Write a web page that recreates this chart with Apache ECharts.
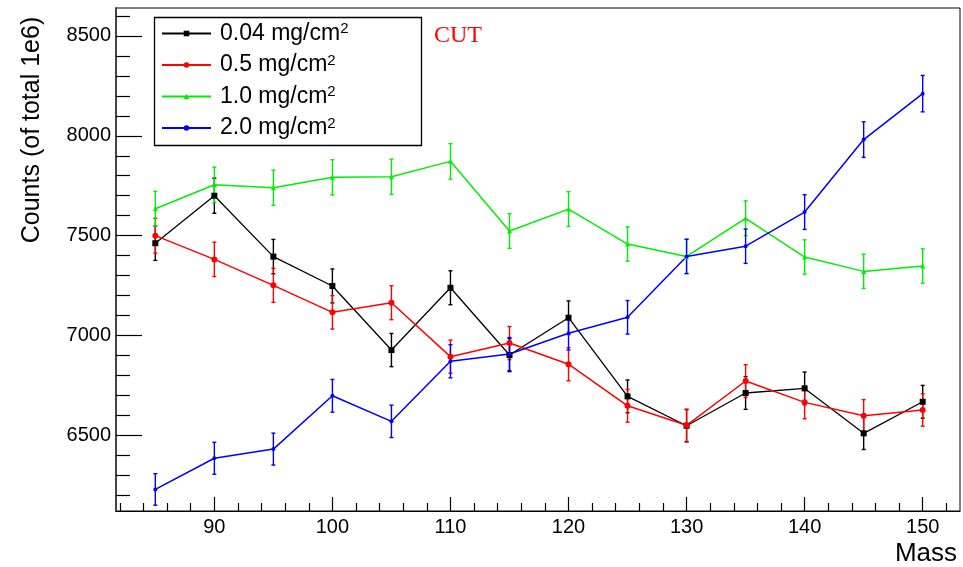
<!DOCTYPE html>
<html>
<head>
<meta charset="utf-8">
<script src="https://cdn.jsdelivr.net/npm/echarts@6/dist/echarts.min.js"></script>
<style>html,body{margin:0;padding:0;background:#fff;}#c{width:963px;height:567px;}</style>
</head>
<body>
<div id="c"></div>
<script>
// ---- data ----
const masses = [85, 90, 95, 100, 105, 110, 115, 120, 125, 130, 135, 140, 145, 150];
const seriesNames = ['0.04 mg/cm²', '0.5 mg/cm²', '1.0 mg/cm²', '2.0 mg/cm²'];
const counts004 = [7462, 7700, 7395, 7248, 6927, 7239, 6902, 7089, 6695, 6548, 6712, 6735, 6510, 6668];
const errors004 = [86, 88, 86, 85, 83, 85, 83, 84, 82, 81, 82, 82, 81, 82];
const counts05  = [7500, 7381, 7251, 7116, 7164, 6894, 6962, 6856, 6648, 6550, 6772, 6665, 6598, 6627];
const errors05  = [87, 86, 85, 84, 85, 83, 83, 83, 82, 81, 82, 82, 81, 81];
const counts10  = [7635, 7755, 7740, 7792, 7795, 7872, 7523, 7633, 7458, 7396, 7587, 7393, 7321, 7348];
const errors10  = [87, 88, 88, 88, 88, 89, 87, 87, 86, 86, 87, 86, 86, 86];
const counts20  = [6229, 6385, 6431, 6698, 6570, 6871, 6907, 7011, 7091, 7396, 7447, 7618, 7981, 8211];
const errors20  = [79, 80, 80, 82, 81, 83, 83, 84, 84, 86, 86, 87, 89, 91];
const xMajorTicks = [90, 100, 110, 120, 130, 140, 150];
const xMinorTicks = [82, 84, 86, 88, 92, 94, 96, 98, 102, 104, 106, 108, 112, 114, 116, 118, 122, 124, 126, 128, 132, 134, 136, 138, 142, 144, 146, 148, 152];
const yMajorTicks = [6500, 7000, 7500, 8000, 8500];
const yMinorTicks = [6200, 6300, 6400, 6600, 6700, 6800, 6900, 7100, 7200, 7300, 7400, 7600, 7700, 7800, 7900, 8100, 8200, 8300, 8400, 8600];

// ---- styling ----
const colors = ['#000000', '#ff0000', '#00ee00', '#0000ff'];
const symbols = ['rect', 'circle', 'triangle', 'circle'];
const symbolSizes = [6, 6, 5, 4];
const allCounts = [counts004, counts05, counts10, counts20];
const allErrors = [errors004, errors05, errors10, errors20];
const FONT = "'Liberation Sans', Arial, sans-serif";
const X_MIN = 81.67, X_MAX = 153.16, Y_MIN = 6121, Y_MAX = 8640;

const series = [];
allCounts.forEach((vals, i) => {
  const color = colors[i];
  series.push({
    name: 'err' + i,
    type: 'custom',
    xAxisIndex: 0, yAxisIndex: 0,
    data: masses.map((m, k) => [m, vals[k], allErrors[i][k]]),
    silent: true,
    renderItem: function (params, api) {
      const x = api.value(0), y = api.value(1), e = api.value(2);
      const top = api.coord([x, y + e]);
      const bot = api.coord([x, y - e]);
      const st = { stroke: color, lineWidth: 1.4 };
      return {
        type: 'group',
        children: [
          { type: 'line', shape: { x1: top[0], y1: top[1], x2: bot[0], y2: bot[1] }, style: st },
          { type: 'line', shape: { x1: top[0] - 2, y1: top[1], x2: top[0] + 2, y2: top[1] }, style: st },
          { type: 'line', shape: { x1: bot[0] - 2, y1: bot[1], x2: bot[0] + 2, y2: bot[1] }, style: st }
        ]
      };
    }
  });
  series.push({
    name: seriesNames[i],
    type: 'line',
    xAxisIndex: 0, yAxisIndex: 0,
    data: masses.map((m, k) => [m, vals[k]]),
    symbol: symbols[i],
    symbolSize: symbolSizes[i],
    showAllSymbol: true,
    lineStyle: { color: color, width: i === 0 ? 1.3 : 1.5 },
    itemStyle: { color: color },
    emphasis: { disabled: true },
    animation: false
  });
});

const chart = echarts.init(document.getElementById('c'), null, { renderer: 'canvas' });
const gridBox = { left: 116, top: 8, right: 3, bottom: 56 };
chart.setOption({
  animation: false,
  backgroundColor: '#ffffff',
  grid: [
    Object.assign({ show: true, borderColor: '#000', borderWidth: 1, containLabel: false }, gridBox),
    Object.assign({ show: false, containLabel: false }, gridBox)
  ],
  xAxis: [
    {
      type: 'value', gridIndex: 0, min: X_MIN, max: X_MAX,
      splitLine: { show: false },
      axisLine: { show: true, lineStyle: { color: '#000', width: 1.2 } },
      axisTick: { show: true, inside: true, length: 14, customValues: xMajorTicks, lineStyle: { color: '#000', width: 1.2 } },
      axisLabel: { show: true, customValues: xMajorTicks, fontSize: 20, fontFamily: FONT, color: '#000', margin: 6,
        formatter: function (v) { return String(v); } }
    },
    {
      type: 'value', gridIndex: 1, min: X_MIN, max: X_MAX,
      splitLine: { show: false },
      axisLine: { show: false },
      axisTick: { show: true, inside: true, length: 8, customValues: xMinorTicks, lineStyle: { color: '#000', width: 1.2 } },
      axisLabel: { show: false }
    }
  ],
  yAxis: [
    {
      type: 'value', gridIndex: 0, min: Y_MIN, max: Y_MAX,
      splitLine: { show: false },
      axisLine: { show: true, lineStyle: { color: '#444', width: 2 } },
      axisTick: { show: true, inside: true, length: 26, customValues: yMajorTicks, lineStyle: { color: '#000', width: 1.2 } },
      axisLabel: { show: true, customValues: yMajorTicks, fontSize: 20, fontFamily: FONT, color: '#000', margin: 5,
        formatter: function (v) { return String(v); } }
    },
    {
      type: 'value', gridIndex: 1, min: Y_MIN, max: Y_MAX,
      splitLine: { show: false },
      axisLine: { show: false },
      axisTick: { show: true, inside: true, length: 14, customValues: yMinorTicks, lineStyle: { color: '#000', width: 1.2 } },
      axisLabel: { show: false }
    }
  ],
  legend: {
    show: true,
    orient: 'vertical',
    left: 161, top: 21.5,
    padding: 0,
    itemWidth: 49, itemHeight: 7, itemGap: 8,
    data: seriesNames,
    selectedMode: false,
    formatter: function (name) { return '{a|' + name.slice(0, -1) + '}{s|2}'; },
    textStyle: {
      color: '#000',
      rich: {
        a: { fontSize: 23, fontFamily: FONT, color: '#000', lineHeight: 24, padding: [0, 0, 0, 4] },
        s: { fontSize: 15, fontFamily: FONT, color: '#000', lineHeight: 14, verticalAlign: 'top' }
      }
    }
  },
  graphic: [
    { type: 'rect', left: 152, top: 15, shape: { width: 267, height: 128 }, style: { fill: 'none', stroke: '#000', lineWidth: 1.3 }, z: 10, silent: true },
    { type: 'text', x: 434, y: 36, style: { text: 'CUT', fill: '#ff0000', font: "24px 'Liberation Serif', 'Times New Roman', serif", textAlign: 'left', textVerticalAlign: 'middle', verticalAlign: 'middle' }, z: 10 },
    { type: 'text', x: 32, y: 130, rotation: Math.PI / 2, style: { text: 'Counts (of total 1e6)', fill: '#000', font: "25px " + FONT, textAlign: 'center', align: 'center', textVerticalAlign: 'middle', verticalAlign: 'middle' }, z: 10 },
    { type: 'text', x: 957, y: 554, style: { text: 'Mass', fill: '#000', font: "26px " + FONT, textAlign: 'right', align: 'right', textVerticalAlign: 'middle', verticalAlign: 'middle' }, z: 10 }
  ],
  series: series
});
</script>
</body>
</html>
